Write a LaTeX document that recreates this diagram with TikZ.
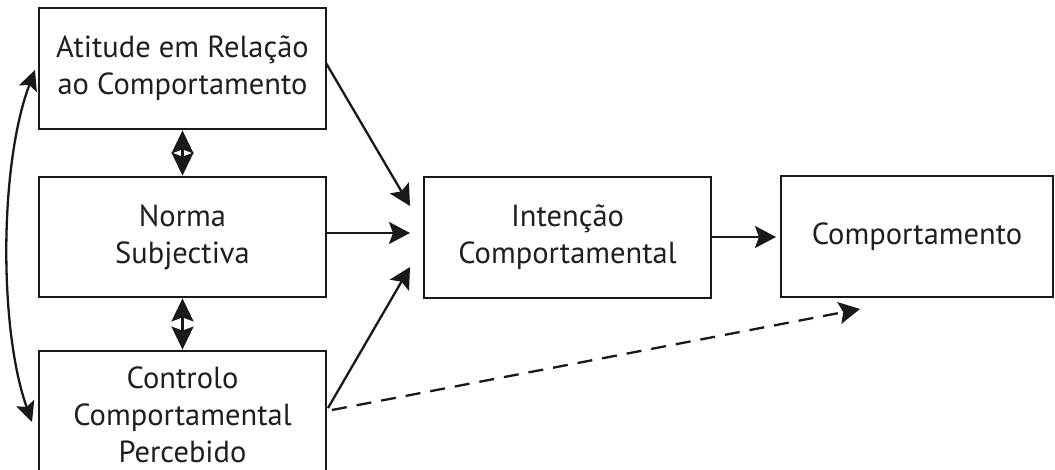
\documentclass[tikz,border=0pt]{standalone}
\usepackage{fontspec}
\setmainfont{PT Sans}
\usetikzlibrary{arrows.meta}
\begin{document}
\begin{tikzpicture}[x=1pt,y=-1pt,
  box/.style={draw=black!90, line width=2.8pt, inner sep=0pt, align=center,
    text=black!88, font=\fontsize{30.5}{37}\selectfont},
  arr/.style={line width=2.3pt, draw=black!90, -{Stealth[length=21pt,width=22pt,inset=4pt]}},
  dbl/.style={line width=2.3pt, draw=black!90, {Stealth[length=23pt,width=22pt,inset=4pt]}-{Stealth[length=23pt,width=22pt,inset=4pt]}},
  crv/.style={line width=2.3pt, draw=black!90, {Stealth[length=20pt,width=19pt,inset=4pt]}-{Stealth[length=20pt,width=19pt,inset=4pt]}},
  dsh/.style={arr, dash pattern=on 15pt off 10pt}]
\clip (0,0) rectangle (1055,470);
\fill[white] (0,0) rectangle (1055,470);
\node[box, minimum width=287pt, minimum height=121pt] (A) at (182.5,68.5) {Atitude em Relação\\ao Comportamento};
\node[box, minimum width=287pt, minimum height=120pt] (N) at (182.5,237) {Norma\\Subjectiva};
\node[box, minimum width=287pt, minimum height=128pt] (C) at (182.5,415) {Controlo\\Comportamental\\Percebido};
\node[box, minimum width=287pt, minimum height=121pt] (I) at (567.5,237.5) {Intenção\\Comportamental};
\node[box, minimum width=272pt, minimum height=121pt] (B) at (917,236.5) {Comportamento};
\coordinate (tA) at (410,206);
\coordinate (tN) at (410,233);
\coordinate (tC) at (410,267);
\coordinate (tB) at (776,237);
\coordinate (tD) at (860,309);
\coordinate (sA) at (326,63);
\coordinate (sC) at (328,408);
\coordinate (sD) at (332,410);
\coordinate (cA) at (35,70);
\coordinate (cC) at (32,422);
\draw[arr] (sA) -- (tA);
\draw[arr] (N.east |- tN) -- (tN);
\draw[arr] (sC) -- (tC);
\draw[arr] (I.east |- tB) -- (tB);
\draw[dsh] (sD) -- (tD);
\draw[dbl] (A.south) -- (N.north);
\draw[dbl] (N.south) -- (C.north);
\draw[crv] (cC) .. controls (-1,330) and (-1,165) .. (cA);
\end{tikzpicture}
\end{document}
